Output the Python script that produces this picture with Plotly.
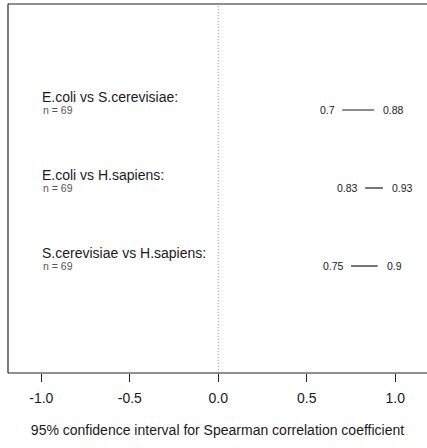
import plotly.graph_objects as go

comparisons = ["E.coli vs S.cerevisiae:", "E.coli vs H.sapiens:", "S.cerevisiae vs H.sapiens:"]
n_values = [69, 69, 69]
ci_lower = [0.70, 0.83, 0.75]
ci_upper = [0.88, 0.93, 0.90]
ci_lower_text = ["0.7", "0.83", "0.75"]
ci_upper_text = ["0.88", "0.93", "0.9"]
y_pos = [3, 2, 1]
x_ticks = [-1.0, -0.5, 0.0, 0.5, 1.0]
x_tick_text = ["-1.0", "-0.5", "0.0", "0.5", "1.0"]

FONT = "Liberation Sans, Arial, sans-serif"
fig = go.Figure()

for lo, hi, y in zip(ci_lower, ci_upper, y_pos):
    fig.add_trace(go.Scatter(x=[lo, hi], y=[y, y], mode="lines",
                             line=dict(color="#1a1a1a", width=1.2),
                             showlegend=False, hoverinfo="skip"))

annotations = []
for name, n, lo, hi, lt, ht, y in zip(comparisons, n_values, ci_lower, ci_upper,
                                       ci_lower_text, ci_upper_text, y_pos):
    annotations.append(dict(x=-1.0, y=y, text=name, showarrow=False, xanchor="left",
                            yanchor="middle", xshift=-1, yshift=13,
                            font=dict(family=FONT, size=14, color="#1a1a1a")))
    annotations.append(dict(x=-1.0, y=y, text=f"n = {n}", showarrow=False, xanchor="left",
                            yanchor="middle", xshift=0, yshift=0,
                            font=dict(family=FONT, size=10.5, color="#555555")))
    annotations.append(dict(x=lo, y=y, text=lt, showarrow=False, xanchor="right",
                            yanchor="middle", xshift=-5,
                            font=dict(family=FONT, size=10.5, color="#1a1a1a")))
    annotations.append(dict(x=hi, y=y, text=ht, showarrow=False, xanchor="left",
                            yanchor="middle", xshift=7,
                            font=dict(family=FONT, size=10.5, color="#1a1a1a")))

shapes = [
    dict(type="line", xref="x", yref="paper", x0=0, x1=0, y0=0, y1=1,
         line=dict(color="#999999", width=1, dash="1px,2px")),
    dict(type="line", xref="paper", yref="paper", x0=0, x1=1, y0=1, y1=1,
         line=dict(color="#222222", width=1.2)),
    dict(type="line", xref="paper", yref="paper", x0=0, x1=0, y0=0, y1=1,
         line=dict(color="#222222", width=1.2)),
    dict(type="line", xref="paper", yref="paper", x0=0, x1=1, y0=0, y1=0,
         line=dict(color="#222222", width=1.2)),
]

fig.update_layout(
    width=427, height=448,
    margin=dict(l=8, r=0, t=4, b=75),
    paper_bgcolor="white", plot_bgcolor="white",
    annotations=annotations, shapes=shapes,
    font=dict(family=FONT, color="#1a1a1a"),
    xaxis=dict(range=[-1.188, 1.179], tickvals=x_ticks, ticktext=x_tick_text,
               ticks="outside", ticklen=8, tickcolor="#222222", tickwidth=1,
               ticklabelstandoff=4,
               showgrid=False, zeroline=False, showline=False,
               tickfont=dict(family=FONT, size=14, color="#1a1a1a"),
               title=dict(text="95% confidence interval for Spearman correlation coefficient",
                          font=dict(family=FONT, size=14, color="#1a1a1a"), standoff=20)),
    yaxis=dict(range=[-0.372, 4.359], showticklabels=False, ticks="", showgrid=False,
               zeroline=False, showline=False),
)

fig.write_html("out.html")
